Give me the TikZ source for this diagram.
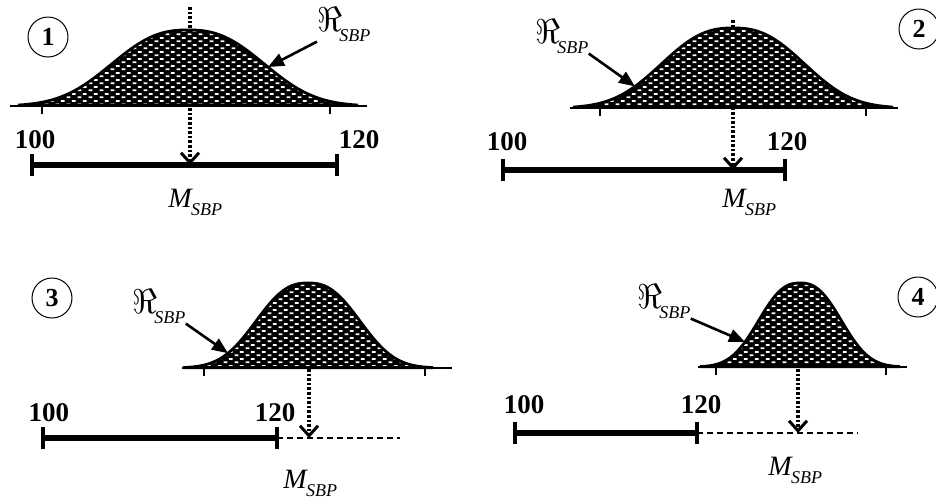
\documentclass[tikz,border=0pt]{standalone}
\usepackage{fontspec}
\setmainfont{Liberation Serif}
\usetikzlibrary{arrows.meta,patterns}

\pgfdeclarepatternformonly{flecks}{\pgfqpoint{0pt}{0pt}}{\pgfqpoint{5.6pt}{3.4pt}}{\pgfqpoint{5.6pt}{3.4pt}}{%
  \pgfpathrectangle{\pgfqpoint{0.4pt}{0.4pt}}{\pgfqpoint{1.9pt}{0.9pt}}%
  \pgfpathrectangle{\pgfqpoint{3.2pt}{2.1pt}}{\pgfqpoint{1.9pt}{0.9pt}}%
  \pgfusepath{fill}}

\newcommand{\sbplabel}{$\Re$\kern-1.5pt\raisebox{-5pt}{\fontsize{9}{9}\selectfont\itshape SBP}}
\newcommand{\msbp}{\textit{M}\kern-1pt\raisebox{-4pt}{\fontsize{9}{9}\selectfont\itshape SBP}}
\newcommand{\bellcurve}[5]{%
  \path[bell] plot[domain=-#5:#5, samples=91] ({#1+\x},{#2-#3*exp(-(abs(\x)/#4)^2*sqrt(abs(\x)/#4))}) -- cycle;}

\begin{document}
\begin{tikzpicture}[x=0.5pt, y=-0.5pt,
    bell/.style={draw=black, line width=1.4pt, preaction={fill=black}, pattern=flecks, pattern color=white},
    axisline/.style={line width=1.3pt},
    tickmark/.style={line width=0.8pt},
    sbar/.style={line width=2.6pt},
    sbarend/.style={line width=1.8pt},
    ext/.style={dash pattern=on 3pt off 2pt, line width=1pt},
    mline/.style={line width=1.8pt, dash pattern=on 1.3pt off 1pt, -{Straight Barb[length=5pt,width=9pt,line width=1.5pt]}},
    rarrow/.style={line width=1.3pt, -{Triangle[length=8pt,width=6.5pt]}},
    num/.style={font=\fontsize{13.5}{13.5}\selectfont\bfseries, inner sep=0pt},
    numcirc/.style={circle, draw, line width=0.5pt, minimum size=20pt, inner sep=0pt, font=\fontsize{13}{13}\selectfont\bfseries},
    rlabel/.style={font=\fontsize{17.28}{17}\selectfont, inner sep=0pt, anchor=base west},
    mlabel/.style={font=\fontsize{14}{14}\selectfont, inner sep=0pt, anchor=base west}]

    \useasboundingbox (0,0) rectangle (936,500);

    % panel 1
    \coordinate (p1) at (190,7);
    \coordinate (q1) at (190,165);
    \draw[mline] (p1) -- (q1);
    \bellcurve{188}{106}{76}{94}{170}
    \draw[axisline] (10,106) -- (367,106);
    \foreach \t in {42,330} \draw[tickmark] (\t,106) -- ++(0,8);
    \coordinate (a1) at (32,165);
    \coordinate (b1) at (337,165);
    \draw[sbar] (a1) -- (b1);
    \draw[sbarend] (a1) ++(0,-11) -- ++(0,22);
    \draw[sbarend] (b1) ++(0,-11) -- ++(0,22);
    \node[num] (lo1) at (35,140) {100};
    \node[num] (hi1) at (359,140) {120};
    \node[numcirc] (c1) at (48,37) {1};
    \node[rlabel] (r1) at (317,31) {\sbplabel};
    \node[mlabel] (m1) at (168,207) {\msbp};
    \coordinate (t1) at (268,{106-76*exp(-(80/94)^2*sqrt(80/94))});
    \draw[rarrow] (r1.south west) -- (t1);

    % panel 2
    \coordinate (p2) at (733,20);
    \coordinate (q2) at (733,170);
    \draw[mline] (p2) -- (q2);
    \bellcurve{733}{108}{80}{88}{160}
    \draw[axisline] (570,108) -- (898,108);
    \foreach \t in {600,866} \draw[tickmark] (\t,108) -- ++(0,8);
    \coordinate (a2) at (503,170);
    \coordinate (b2) at (785,170);
    \draw[sbar] (a2) -- (b2);
    \draw[sbarend] (a2) ++(0,-11) -- ++(0,22);
    \draw[sbarend] (b2) ++(0,-11) -- ++(0,22);
    \node[num] (lo2) at (507,142) {100};
    \node[num] (hi2) at (787,142) {120};
    \node[numcirc] (c2) at (919,29) {2};
    \node[rlabel] (r2) at (535,43) {\sbplabel};
    \node[mlabel] (m2) at (722,207) {\msbp};
    \coordinate (t2) at (635,{108-80*exp(-(98/88)^2*sqrt(98/88))});
    \draw[rarrow] (r2.south east) -- (t2);

    % panel 3
    \coordinate (p3) at (309,300);
    \coordinate (q3) at (309,438);
    \draw[mline] (p3) -- (q3);
    \bellcurve{308}{368}{85}{64}{125}
    \draw[axisline] (182,368) -- (452,368);
    \foreach \t in {204,425} \draw[tickmark] (\t,368) -- ++(0,8);
    \coordinate (a3) at (43,438);
    \coordinate (b3) at (277,438);
    \coordinate (e3) at (400,438);
    \draw[sbar] (a3) -- (b3);
    \draw[ext] (b3) -- (e3);
    \draw[sbarend] (a3) ++(0,-11) -- ++(0,22);
    \draw[sbarend] (b3) ++(0,-11) -- ++(0,22);
    \node[num] (lo3) at (49,413) {100};
    \node[num] (hi3) at (275,413) {120};
    \node[numcirc] (c3) at (52,298) {3};
    \node[rlabel] (r3) at (132,313) {\sbplabel};
    \node[mlabel] (m3) at (283,488) {\msbp};
    \coordinate (t3) at (228,{368-85*exp(-(80/64)^2*sqrt(80/64))});
    \draw[rarrow] (r3.south east) -- (t3);

    % panel 4
    \coordinate (p4) at (798,300);
    \coordinate (q4) at (798,433);
    \draw[mline] (p4) -- (q4);
    \bellcurve{800}{367}{84}{51}{100}
    \draw[axisline] (698,367) -- (907,367);
    \foreach \t in {716,886} \draw[tickmark] (\t,367) -- ++(0,8);
    \coordinate (a4) at (515,433);
    \coordinate (b4) at (697,433);
    \coordinate (e4) at (858,433);
    \draw[sbar] (a4) -- (b4);
    \draw[ext] (b4) -- (e4);
    \draw[sbarend] (a4) ++(0,-11) -- ++(0,22);
    \draw[sbarend] (b4) ++(0,-11) -- ++(0,22);
    \node[num] (lo4) at (524,405) {100};
    \node[num] (hi4) at (701,405) {120};
    \node[numcirc] (c4) at (918,297) {4};
    \node[rlabel] (r4) at (637,308) {\sbplabel};
    \node[mlabel] (m4) at (768,475) {\msbp};
    \coordinate (t4) at (745,{367-84*exp(-(55/51)^2*sqrt(55/51))});
    \draw[rarrow] (r4.south east) -- (t4);
\end{tikzpicture}
\end{document}
